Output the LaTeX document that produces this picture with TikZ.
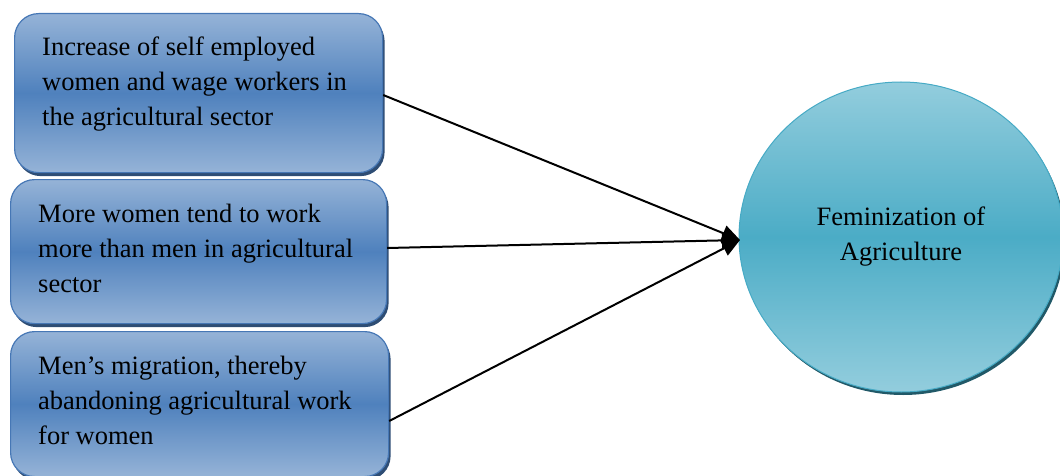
\documentclass[tikz,border=0pt]{standalone}
\usepackage{fontspec}
\setmainfont{Liberation Serif}
\usetikzlibrary{shadows,arrows.meta,shapes.geometric}
\definecolor{boxmid}{HTML}{4F81BD}
\definecolor{boxlight}{HTML}{95B3D7}
\definecolor{boxedge}{HTML}{4677B5}
\definecolor{boxshadow}{HTML}{2E4D74}
\definecolor{circmid}{HTML}{4BACC6}
\definecolor{circlight}{HTML}{93CDDD}
\definecolor{circedge}{HTML}{46AAC5}
\definecolor{circshadow}{HTML}{215968}
\tikzset{
  causebox/.style={draw=boxedge, line width=1.2pt, rounded corners=24pt,
    top color=boxlight, bottom color=boxlight, middle color=boxmid,
    drop shadow={shadow xshift=2pt, shadow yshift=-3.5pt, fill=boxshadow, opacity=1},
    anchor=north west, inner sep=0pt},
  causetext/.style={align=left, font=\fontsize{26.5}{35}\selectfont, anchor=west, inner sep=0pt},
  effect/.style={ellipse, draw=circedge, line width=1pt,
    top color=circlight, bottom color=circlight, middle color=circmid,
    drop shadow={shadow xshift=2pt, shadow yshift=-3pt, fill=circshadow, opacity=1},
    minimum width=324pt, minimum height=310pt, align=center,
    font=\fontsize{26.5}{35}\selectfont},
  link/.style={line width=2pt, black, -{Triangle[length=18pt,width=16pt]}}
}
\begin{document}
\begin{tikzpicture}[x=1pt,y=-1pt]
\useasboundingbox (0,0) rectangle (1060,476);
\node[causebox, minimum width=368pt, minimum height=159pt] (b1) at (14,13) {};
\node[causebox, minimum width=376pt, minimum height=144pt] (b2) at (10,179) {};
\node[causebox, minimum width=378pt, minimum height=145pt] (b3) at (10,331) {};
\node[causetext] (t1) at (42,84) {Increase of self employed\\women and wage workers in\\the agricultural sector};
\node[causetext] (t2) at (38,248) {More women tend to work\\more than men in agricultural\\sector};
\node[causetext] (t3) at (38,400) {Men’s migration, thereby\\abandoning agricultural work\\for women};
\node[effect] (c) at (901,237) {Feminization of\\Agriculture};
\coordinate (tip) at (740,240);
\draw[link] (b1.east |- 0,95) -- (tip);
\draw[link] (b2.east |- 0,248) -- (tip);
\draw[link] (b3.east |- 0,421) -- (tip);
\end{tikzpicture}
\end{document}
